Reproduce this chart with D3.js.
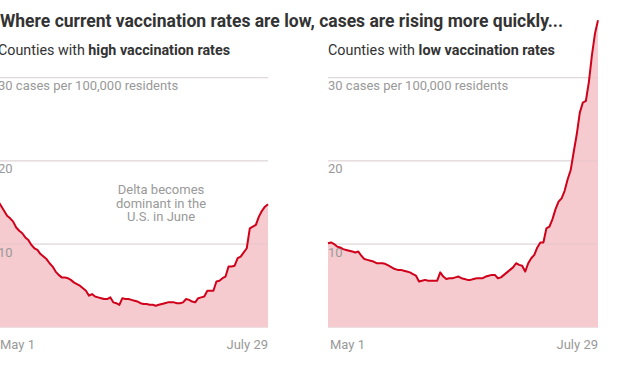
<!DOCTYPE html>
<html>
<head>
<meta charset="utf-8">
<script src="https://cdn.jsdelivr.net/npm/d3@7"></script>
<style>
  body { margin: 0; background: #fff; }
  svg { display: block; font-family: Roboto, "Noto Sans", sans-serif; }
</style>
</head>
<body>
<div id="chart"></div>
<script>
const startDate = "2021-05-01";
const endDate = "2021-07-29";
const xTickLabels = ["May 1", "July 29"];
const yTicks = [10, 20, 30];
const yTickLabels = ["10", "20", "30 cases per 100,000 residents"];

const highVaxValues = [
  15.2, 14.6, 14.0, 13.4, 13.1, 12.7, 12.0, 11.6, 11.3, 10.8,
  10.5, 9.9, 9.5, 9.3, 8.8, 8.5, 8.2, 7.7, 7.3, 6.7,
  6.3, 6.0, 6.0, 5.9, 5.7, 5.4, 5.2, 5.0, 4.7, 4.4,
  3.8, 4.0, 3.7, 3.6, 3.5, 3.4, 3.4, 3.6, 3.0, 2.9,
  2.7, 3.5, 3.4, 3.4, 3.3, 3.2, 3.1, 2.9, 2.8, 2.8,
  2.7, 2.7, 2.6, 2.7, 2.8, 2.9, 3.0, 3.0, 3.0, 2.9,
  2.9, 3.0, 3.4, 3.3, 3.1, 3.0, 3.5, 3.6, 3.7, 4.4,
  4.4, 4.4, 5.5, 5.6, 5.9, 6.1, 7.3, 7.3, 7.4, 8.3,
  8.5, 9.0, 9.5, 11.9, 12.1, 12.3, 13.3, 14.0, 14.5, 14.8
];

const lowVaxValues = [
  10.1, 10.2, 10.0, 9.7, 9.6, 9.4, 9.3, 9.2, 9.1, 9.0,
  9.1, 8.6, 8.2, 8.1, 8.0, 7.9, 7.7, 7.7, 7.7, 7.6,
  7.4, 7.2, 7.0, 6.9, 6.9, 6.8, 6.7, 6.6, 6.4, 6.2,
  5.5, 5.6, 5.7, 5.6, 5.6, 5.6, 5.6, 6.6, 6.1, 5.8,
  5.9, 5.9, 6.0, 6.1, 5.9, 5.8, 5.7, 5.7, 5.8, 5.9,
  5.9, 5.9, 6.1, 6.2, 6.3, 6.3, 5.9, 6.0, 6.3, 6.6,
  6.9, 7.2, 7.7, 7.5, 7.4, 6.7, 7.7, 8.3, 8.7, 9.6,
  10.2, 10.2, 11.9, 12.1, 13.0, 14.2, 15.1, 15.5, 16.4, 17.8,
  18.9, 21.1, 23.2, 25.8, 27.0, 27.2, 29.5, 32.7, 35.3, 36.9
];

const panels = [
  {left: -2, regular: "Counties with ", bold: "high vaccination rates", values: highVaxValues,
   note: ["Delta becomes", "dominant in the", "U.S. in June"]},
  {left: 328, regular: "Counties with ", bold: "low vaccination rates", values: lowVaxValues, note: null}
];

const width = 624, height = 369;
const panelWidth = 270;
const red = "#d0021b", pink = "#f5cbd0", grid = "#e2e2e2", gray = "#999";

const parse = d3.utcParse("%Y-%m-%d");
const days = d3.utcDay.range(parse(startDate), d3.utcDay.offset(parse(endDate), 1));

const svg = d3.select("#chart").append("svg")
  .attr("width", width)
  .attr("height", height)
  .attr("viewBox", [0, 0, width, height]);

svg.append("text")
  .attr("x", 0)
  .attr("y", 27)
  .attr("font-size", 18)
  .attr("font-weight", 700)
  .attr("fill", "#333")
  .attr("textLength", 563)
  .attr("lengthAdjust", "spacingAndGlyphs")
  .text("Where current vaccination rates are low, cases are rising more quickly...");

const y = d3.scaleLinear().domain([0, 30]).range([327.3, 77.7]);

panels.forEach((p, i) => {
  const x = d3.scaleUtc()
    .domain([days[0], days[days.length - 1]])
    .range([p.left, p.left + panelWidth]);

  const g = svg.append("g");

  const sub = g.append("text")
    .attr("x", p.left)
    .attr("y", 55)
    .attr("font-size", 14.5)
    .attr("fill", "#333")
    .attr("textLength", i === 0 ? 232 : 227)
    .attr("lengthAdjust", "spacingAndGlyphs");
  sub.append("tspan").text(p.regular);
  sub.append("tspan").attr("font-weight", 700).text(p.bold);

  // gridlines + baseline
  g.append("g")
    .selectAll("line")
    .data([0].concat(yTicks))
    .join("line")
    .attr("x1", p.left)
    .attr("x2", p.left + panelWidth)
    .attr("y1", d => y(d))
    .attr("y2", d => y(d))
    .attr("stroke", grid)
    .attr("stroke-width", 1);

  const series = days.map((d, k) => ({date: d, value: p.values[k]}));

  g.append("path")
    .datum(series)
    .attr("fill", pink)
    .attr("d", d3.area().x(d => x(d.date)).y0(y(0)).y1(d => y(d.value)));

  // gridlines drawn over the area faintly
  g.append("g")
    .selectAll("line")
    .data(yTicks)
    .join("line")
    .attr("x1", p.left)
    .attr("x2", p.left + panelWidth)
    .attr("y1", d => y(d))
    .attr("y2", d => y(d))
    .attr("stroke", "#d9c3c6")
    .attr("stroke-opacity", 0.5)
    .attr("stroke-width", 1);

  g.append("g")
    .selectAll("text")
    .data(yTicks)
    .join("text")
    .attr("x", p.left)
    .attr("y", d => y(d) + 12.5)
    .attr("font-size", 13)
    .attr("fill", gray)
    .text((d, k) => yTickLabels[k]);

  g.append("path")
    .datum(series)
    .attr("fill", "none")
    .attr("stroke", red)
    .attr("stroke-width", 2)
    .attr("stroke-linejoin", "round")
    .attr("d", d3.line().x(d => x(d.date)).y(d => y(d.value)));

  g.append("text")
    .attr("x", p.left + 2)
    .attr("y", 349)
    .attr("font-size", 13)
    .attr("fill", gray)
    .text(xTickLabels[0]);
  g.append("text")
    .attr("x", p.left + panelWidth)
    .attr("y", 349)
    .attr("text-anchor", "end")
    .attr("font-size", 13)
    .attr("fill", gray)
    .text(xTickLabels[1]);

  if (p.note) {
    g.append("text")
      .attr("text-anchor", "middle")
      .attr("font-size", 13)
      .attr("fill", gray)
      .selectAll("tspan")
      .data(p.note)
      .join("tspan")
      .attr("x", 161)
      .attr("y", (d, k) => 194 + k * 13.5)
      .text(d => d);
  }
});
</script>
</body>
</html>
